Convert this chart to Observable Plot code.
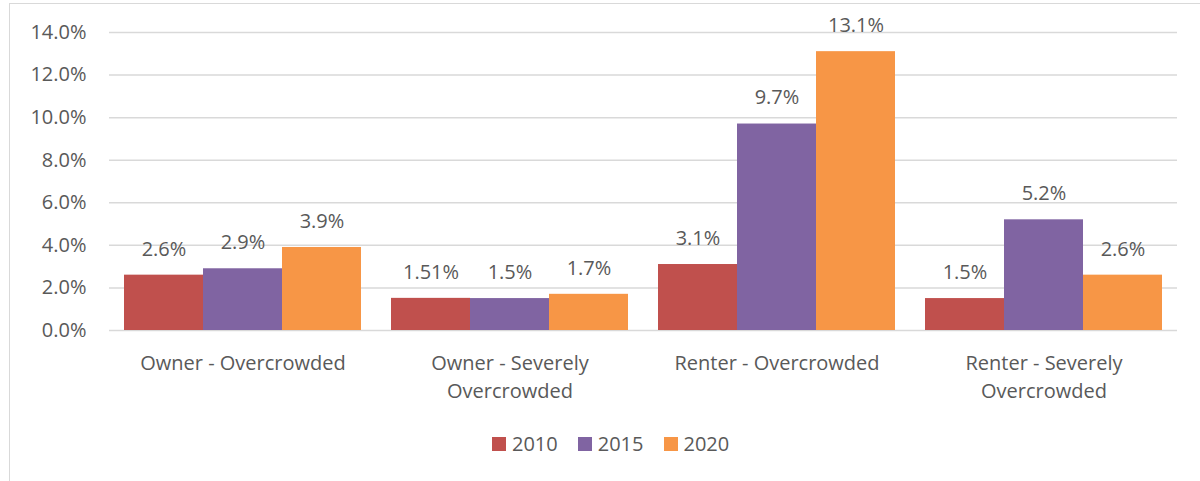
<!DOCTYPE html>
<html><head><meta charset="utf-8">
<script src="https://cdn.jsdelivr.net/npm/d3@7"></script>
<script src="https://cdn.jsdelivr.net/npm/@observablehq/plot@0.6"></script>
<style>
body{margin:0;background:#fff;font-family:"Open Sans",sans-serif;}
#wrap{position:relative;width:1200px;height:481px;overflow:hidden;background:#fff;}
#frame{position:absolute;left:9px;top:3px;width:1300px;height:700px;border:1.5px solid #d9d9d9;box-sizing:border-box;}
#chart{position:absolute;left:0;top:0;}
#legend{position:absolute;top:430px;left:492px;display:flex;align-items:center;font-size:20px;color:#595959;}
#legend .item{display:flex;align-items:center;margin-right:20px;}
#legend .sw{width:14px;height:14px;margin-right:6px;}
</style></head>
<body>
<div id="wrap"><div id="frame"></div><div id="chart"></div><div id="legend"></div></div>
<script>
const categories = ["Owner - Overcrowded","Owner - Severely Overcrowded","Renter - Overcrowded","Renter - Severely Overcrowded"];
const years = ["2010","2015","2020"];
const values2010 = [2.6, 1.51, 3.1, 1.5];
const values2015 = [2.9, 1.5, 9.7, 5.2];
const values2020 = [3.9, 1.7, 13.1, 2.6];
const colors = ["#C0504D","#8064A2","#F79646"];
const yTicks = [0,2,4,6,8,10,12,14];

const series = [values2010, values2015, values2020];
const data = [];
categories.forEach((c,i)=>years.forEach((y,j)=>data.push({category:c, year:y, value:series[j][i]})));

const font = "'Open Sans', sans-serif";
const txt = "#595959";
const fs = 20;
const chart = Plot.plot({
  width:1200, height:481,
  marginTop:32, marginBottom:151, marginLeft:108, marginRight:23,
  style:{fontFamily:font, fontSize:fs+"px", color:txt, background:"transparent"},
  fx:{domain:categories, padding:0, label:null, axis:null},
  x:{domain:years, paddingInner:0, paddingOuter:0.175, axis:null},
  y:{domain:[0,14], label:null, axis:null},
  color:{domain:years, range:colors},
  marks:[
    Plot.gridY(yTicks,{stroke:"#d9d9d9", strokeOpacity:1, strokeWidth:1.5}),
    Plot.axisY(yTicks,{anchor:"left", tickSize:0, tickPadding:23, tickFormat:d=>d.toFixed(1)+"%", fontSize:fs, fill:txt, label:null}),
    Plot.barY(data,{fx:"category", x:"year", y:"value", fill:"year"}),
    Plot.text(data,{fx:"category", x:"year", y:"value", text:d=>d.value+"%", dy:-26, fontSize:fs, fill:txt}),
    Plot.axisFx({anchor:"bottom", tickSize:0, tickPadding:20, label:null, fontSize:fs, fill:txt, lineHeight:1.4,
      tickFormat:d=>d.replace("Severely ","Severely\n")})
  ]
});
document.getElementById("chart").appendChild(chart);

const legend = document.getElementById("legend");
years.forEach((y,i)=>{
  const it = document.createElement("div"); it.className="item";
  const sw = document.createElement("div"); sw.className="sw"; sw.style.background=colors[i];
  const t = document.createElement("span"); t.textContent=y;
  it.appendChild(sw); it.appendChild(t); legend.appendChild(it);
});
</script>
</body></html>
